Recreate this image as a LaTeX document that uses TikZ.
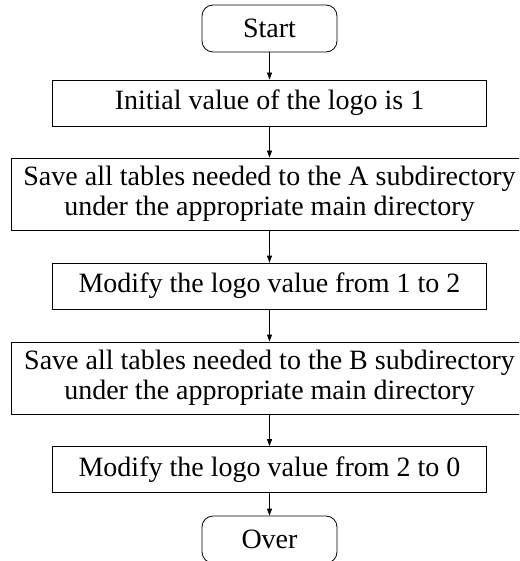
\documentclass[tikz,border=0pt]{standalone}
\usepackage{fontspec}
\setmainfont{Liberation Serif}
\usetikzlibrary{arrows.meta}
\begin{document}
\begin{tikzpicture}[x=1pt,y=-1pt,
  every node/.style={font=\fontsize{28}{30}\selectfont, inner sep=0pt, align=center},
  term/.style={draw, rounded corners=11pt, minimum width=135pt, minimum height=47pt, line width=0.8pt},
  proc/.style={draw, minimum width=434pt, minimum height=46pt, line width=0.8pt},
  wide/.style={draw, minimum width=516pt, minimum height=72pt, line width=0.8pt},
  arr/.style={-{Triangle[length=7pt,width=5pt]}, line width=0.8pt}]
\clip (0,0) rectangle (519,561);
\useasboundingbox (0,0) rectangle (519,561);
\node[term] (start) at (269.5,28.5) {Start};
\node[proc] (b1) at (269.5,103) {Initial value of the logo is 1};
\node[wide] (b2) at (269.5,194) {Save all tables needed to the A subdirectory\\under the appropriate main directory};
\node[proc] (b3) at (269.5,286) {Modify the logo value from 1 to 2};
\node[wide] (b4) at (269.5,378) {Save all tables needed to the B subdirectory\\under the appropriate main directory};
\node[proc] (b5) at (269.5,469.5) {Modify the logo value from 2 to 0};
\node[term] (over) at (269.5,539.5) {Over};
\draw[arr] (start) -- (b1);
\draw[arr] (b1) -- (b2);
\draw[arr] (b2) -- (b3);
\draw[arr] (b3) -- (b4);
\draw[arr] (b4) -- (b5);
\draw[arr] (b5) -- (over);
\end{tikzpicture}
\end{document}
